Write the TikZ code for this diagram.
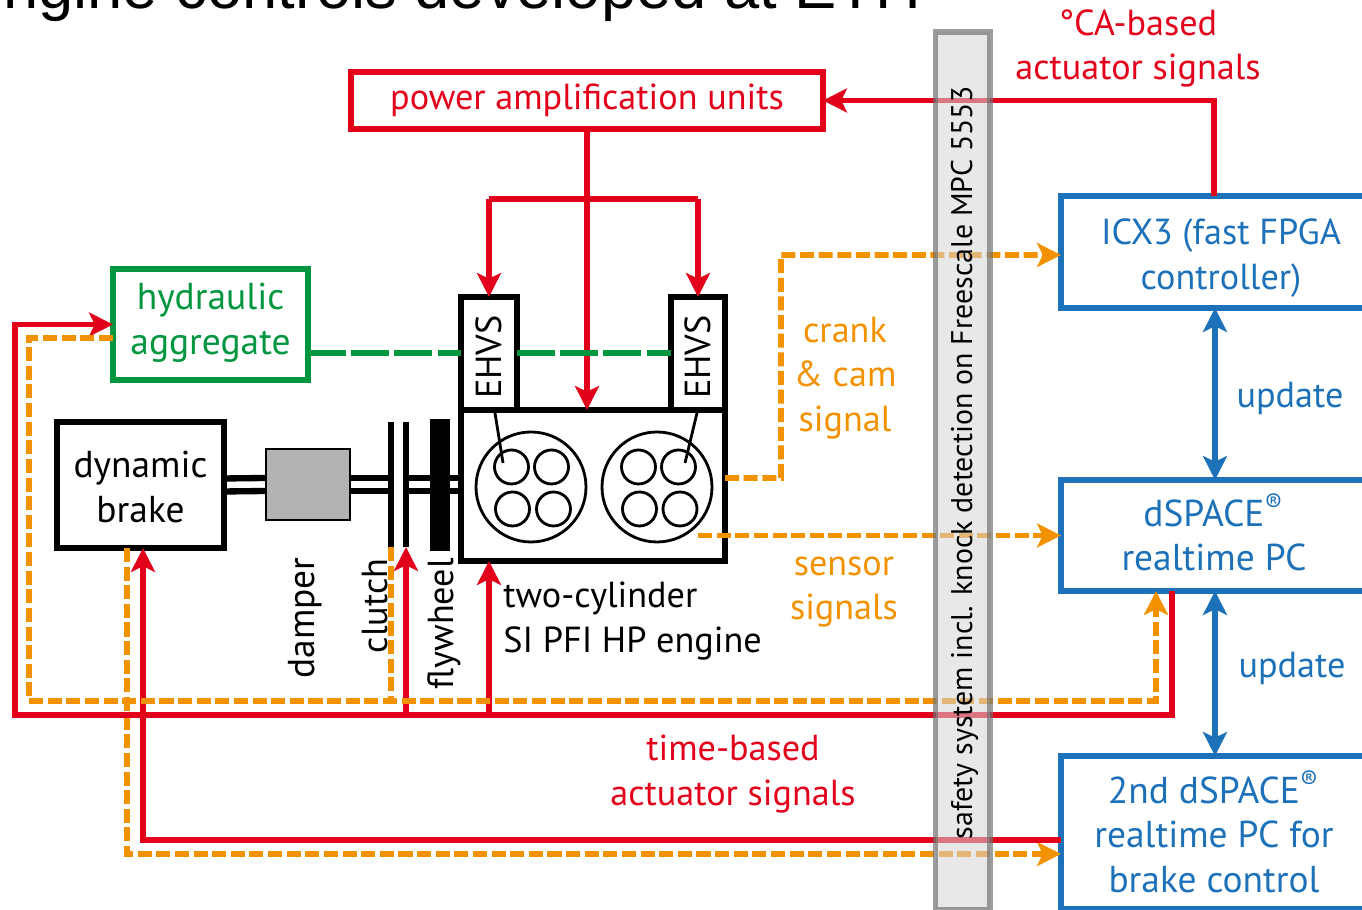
\documentclass[tikz,border=0pt]{standalone}
\usepackage{fontspec}
\setmainfont{PT Sans}
\newfontfamily\titlefont{Liberation Sans}
\usetikzlibrary{arrows.meta}

\definecolor{sigred}{HTML}{E2001A}
\definecolor{sigorange}{HTML}{F39200}
\definecolor{siggreen}{HTML}{009640}
\definecolor{sigblue}{HTML}{1D71B8}

\tikzset{
  txt/.style={font=\fontsize{10.3}{12.66}\selectfont, align=center},
  txtb/.style={font=\fontsize{10.65}{12.66}\selectfont, align=center},
  box/.style={draw, line width=1.6pt, outer sep=0pt, inner sep=0pt},
  plate/.style={fill=black, outer sep=0pt, inner sep=0pt},
  shaft/.style={line width=1.8pt},
  redwire/.style={sigred, line width=1.55pt},
  orangewire/.style={sigorange, line width=1.65pt, dash pattern=on 4pt off 1.3pt},
  greenwire/.style={siggreen, line width=1.7pt, dash pattern=on 10.8pt off 1.5pt},
  tip/.style={-{Stealth[length=6.8pt, width=6.8pt, inset=1.6pt]}},
  twotip/.style={{Stealth[length=6.8pt, width=6.8pt, inset=1.6pt]}-{Stealth[length=6.8pt, width=6.8pt, inset=1.6pt]}}
}

\begin{document}
\begin{tikzpicture}
  \path[use as bounding box, clip] (0,0) rectangle (13.62,9.1);
  \node[anchor=base east, inner sep=0pt, font=\titlefont\fontsize{18}{18}\selectfont] (title) at (9.22,9.01) {ngine controls developed at ETH};

  % boxes
  \node[box, txt, sigred, minimum width=4.72cm, minimum height=.57cm] (power) at (5.87,8.095) {power amplification units};
  \node[box, siggreen, minimum width=1.95cm, minimum height=1.11cm] (hydraulic) at (2.105,5.855) {};
  \node[box, minimum width=1.67cm, minimum height=1.26cm] (brake) at (1.405,4.25) {};
  \node[draw, fill={rgb,255:red,177;green,178;blue,180}, line width=.6pt, outer sep=0pt, minimum width=.84cm, minimum height=.71cm] (damper) at (3.08,4.255) {};
  \node[box, minimum width=2.64cm, minimum height=1.51cm] (engine) at (5.93,4.245) {};
  \node[box, minimum width=.56cm, minimum height=1.13cm] (ehvsL) at (4.89,5.565) {};
  \node[box, minimum width=.54cm, minimum height=1.13cm] (ehvsR) at (6.98,5.565) {};
  \node[box, sigblue, minimum width=3.2cm, minimum height=1.12cm] (icx) at (12.21,6.58) {};
  \node[box, sigblue, minimum width=3.08cm, minimum height=1.11cm] (dspace) at (12.15,3.745) {};
  \node[box, sigblue, minimum width=3.08cm, minimum height=1.53cm] (second) at (12.15,.775) {};

  % box texts
  \node[txtb, siggreen] (hydraulictxt) at (2.105,5.875) {hydraulic\\aggregate};
  \node[txtb] (braketxt) at (1.405,4.23) {dynamic\\brake};
  \node[txt, rotate=90] (ehvsLtxt) at (4.89,5.53) {EHVS};
  \node[txt, rotate=90] (ehvsRtxt) at (6.98,5.53) {EHVS};
  \node[txt, sigblue] (icxtxt) at (12.21,6.52) {ICX3 (fast FPGA\\controller)};
  \node[txtb, sigblue] (dspacetxt) at (12.14,3.775) {dSPACE\textsuperscript{®}\\realtime PC};
  \node[txtb, sigblue] (secondtxt) at (12.14,.785) {2nd dSPACE\textsuperscript{®}\\realtime PC for\\brake control};

  % driveline
  \node[plate, minimum width=.06cm, minimum height=1.25cm] (clutchA) at (3.91,4.255) {};
  \node[plate, minimum width=.065cm, minimum height=1.25cm] (clutchB) at (4.06,4.255) {};
  \node[plate, minimum width=.2cm, minimum height=1.32cm] (flywheel) at (4.40,4.25) {};
  \draw[shaft] ([yshift=.065cm]brake.east) -- ([yshift=.065cm]damper.west);
  \draw[shaft] ([yshift=-.065cm]brake.east) -- ([yshift=-.065cm]damper.west);
  \draw[shaft] ([yshift=.065cm]damper.east) -- ([yshift=.065cm]damper.east -| clutchA.west);
  \draw[shaft] ([yshift=-.065cm]damper.east) -- ([yshift=-.065cm]damper.east -| clutchA.west);
  \draw[shaft] ([yshift=.065cm]clutchB.east) -- ([yshift=.065cm]clutchB.east -| engine.west);
  \draw[shaft] ([yshift=-.065cm]clutchB.east) -- ([yshift=-.065cm]clutchB.east -| engine.west);

  % cylinders
  \draw[line width=.8pt] (5.31,4.23) circle (.55);
  \draw[line width=.8pt] (6.57,4.23) circle (.55);
  \draw[line width=.8pt] (5.115,4.43) circle (.17);
  \draw[line width=.8pt] (5.515,4.43) circle (.17);
  \draw[line width=.8pt] (5.125,4.01) circle (.17);
  \draw[line width=.8pt] (5.535,4.01) circle (.17);
  \draw[line width=.8pt] (6.385,4.43) circle (.17);
  \draw[line width=.8pt] (6.785,4.43) circle (.17);
  \draw[line width=.8pt] (6.395,4.01) circle (.17);
  \draw[line width=.8pt] (6.80,4.01) circle (.17);
  \draw[line width=.8pt] (4.95,4.97) -- (5.03,4.47);
  \draw[line width=.8pt] (6.97,4.97) -- (6.85,4.47);

  % wires
  \coordinate (redR) at (11.72,1.95);
  \coordinate (redL) at (.15,1.95);
  \coordinate (orangeL) at (.29,2.09);
  \coordinate (orangeR) at (11.56,2.09);
  \coordinate (crank) at (7.81,4.32);
  \coordinate (sensor) at (6.98,3.745);
  \coordinate (split) at (5.87,7.11);
  \draw[orangewire, tip] ([xshift=-.135cm]brake.south) |- ([yshift=-.215cm]second.west);
  \draw[redwire, tip] ([yshift=-.075cm]second.west) -| ([xshift=.025cm]brake.south);
  \draw[redwire, tip] (power.south) -- (power.south |- engine.north);
  \draw[redwire, tip] (split -| ehvsL.north) -- (ehvsL.north);
  \draw[redwire, tip] (split -| ehvsR.north) -- (ehvsR.north);
  \draw[redwire] (split -| ehvsL.north) -- (split -| ehvsR.north);
  \draw[redwire, tip] ([xshift=-.07cm]icx.north) |- (power.east);
  \draw[redwire, tip] (redR |- dspace.south) -- (redR) -- (redL) |- (hydraulic.west);
  \draw[redwire, tip] (clutchB.south |- redR) -- (clutchB.south);
  \draw[redwire, tip] (ehvsL.north |- redR) -- (ehvsL.north |- engine.south);
  \draw[orangewire, tip] ([yshift=-.135cm]hydraulic.west) -| (orangeL) -- (orangeR) -- (orangeR |- dspace.south);
  \draw[orangewire] (clutchA.south) -- (clutchA.south |- orangeR);
  \draw[orangewire, tip] ([yshift=.075cm]engine.east) -- (crank) |- ([yshift=-.03cm]icx.west);
  \draw[orangewire, tip] (sensor) -- (dspace.west);
  \draw[greenwire] (ehvsL.west -| hydraulic.east) -- (ehvsL.west);
  \draw[greenwire] (ehvsL.east) -- (ehvsR.west);
  \draw[sigblue, line width=1.55pt, twotip] (icx.south -| dspace.north) -- (dspace.north);
  \draw[sigblue, line width=1.55pt, twotip] (dspace.south) -- (second.north);

  % safety bar
  \node[rotate=90, draw={rgb,255:red,115;green,115;blue,115}, fill={rgb,255:red,213;green,214;blue,214}, draw opacity=.7, fill opacity=.55, line width=1.6pt, outer sep=0pt, minimum width=8.775cm, minimum height=.545cm] (safety) at (9.6275,4.3925) {};
  \node[rotate=90, anchor=base, inner sep=0pt, font=\fontsize{8.5}{10}\selectfont] (safetytxt) at (9.72,4.47) {safety system incl. knock detection on Freescale MPC 5553};

  % labels
  \node[txt, sigred] (calabel) at (11.38,8.615) {°CA-based\\actuator signals};
  \node[txt, sigred] (timelabel) at (7.33,1.36) {time-based\\actuator signals};
  \node[txt, sigorange] (cranklabel) at (8.45,5.32) {crank\\\& cam\\signal};
  \node[txt, sigorange] (sensorlabel) at (8.44,3.18) {sensor\\signals};
  \node[txt, sigblue] (updateA) at (12.90,5.12) {update};
  \node[txt, sigblue] (updateB) at (12.92,2.42) {update};
  \node[txt, align=left, anchor=west] (enginelabel) at (4.91,2.89) {two-cylinder\\SI PFI HP engine};
  \node[txtb, rotate=90] (damperlabel) at (3.05,2.92) {damper};
  \node[txt, rotate=90] (clutchlabel) at (3.75,3.04) {clutch};
  \node[txt, rotate=90] (flywheellabel) at (4.44,2.86) {flywheel};
\end{tikzpicture}
\end{document}
